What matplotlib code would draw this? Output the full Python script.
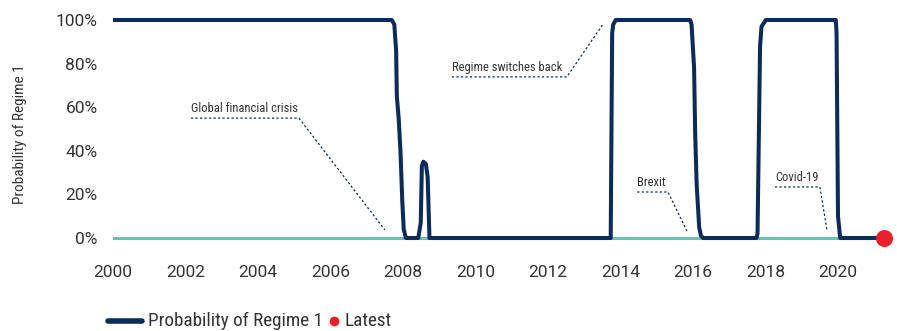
import matplotlib
matplotlib.use("Agg")
import matplotlib.pyplot as plt
from matplotlib.lines import Line2D
from matplotlib.ticker import FuncFormatter

# ---- data ----
dates = [2000.0, 2007.69, 2007.76, 2007.81, 2007.83, 2007.88, 2007.93, 2007.98, 2008.02, 2008.08,
         2008.42, 2008.49, 2008.52, 2008.56, 2008.63, 2008.68, 2008.70, 2008.73,
         2013.73, 2013.77, 2013.80, 2013.87,
         2015.92, 2015.96, 2016.03, 2016.06, 2016.10, 2016.17, 2016.22, 2016.28,
         2017.75, 2017.78, 2017.85, 2017.89, 2018.01,
         2019.94, 2019.96, 2020.00, 2020.06, 2021.27]
prob_regime1 = [1.0, 1.0, 0.98, 0.86, 0.65, 0.55, 0.40, 0.17, 0.04, 0.0,
                0.0, 0.07, 0.33, 0.35, 0.34, 0.28, 0.17, 0.0,
                0.0, 0.94, 0.98, 1.0,
                1.0, 0.98, 0.78, 0.48, 0.25, 0.05, 0.01, 0.0,
                0.0, 0.02, 0.88, 0.97, 1.0,
                1.0, 0.94, 0.10, 0.0, 0.0]
latest_date = 2021.27
latest_value = 0.0
x_ticks = list(range(2000, 2021, 2))
y_ticks = [0, 0.2, 0.4, 0.6, 0.8, 1.0]

# annotations: text, text x, text y, underline x-end, pointer end (x, y)
annotations = [
    ("Global financial crisis", 2002.15, 0.55, 2005.13, 2007.50, 0.037),
    ("Regime switches back", 2009.35, 0.739, 2012.52, 2013.52, 0.982),
    ("Brexit", 2014.46, 0.211, 2015.31, 2015.83, 0.032),
    ("Covid-19", 2018.26, 0.234, 2019.50, 2019.70, 0.032),
]

NAVY = "#0b2c5a"
TEAL = "#6cc0b2"
RED = "#e8202a"
TXT = "#333333"

plt.rcParams['font.family'] = ['Roboto', 'DejaVu Sans']
narrow = ['Roboto Condensed', 'Roboto', 'DejaVu Sans']

W, H = 897, 331
fig = plt.figure(figsize=(W / 100, H / 100), dpi=100)
x0, x1 = 2000.0, 2021.3
ylo, yhi = -0.10, 1.05
px_year = 36.25
px_unit = 218.0
left_px = 113
right_px = left_px + (x1 - x0) * px_year
bottom_px = 238 + (0 - ylo) * px_unit
top_px = 238 - (yhi - 0) * px_unit
ax = fig.add_axes([left_px / W, (H - bottom_px) / H, (right_px - left_px) / W, (bottom_px - top_px) / H])
ax.set_xlim(x0, x1)
ax.set_ylim(ylo, yhi)

ax.axhline(0, color=TEAL, lw=2.2, zorder=2)
ax.plot(dates, prob_regime1, color=NAVY, lw=2.9, solid_joinstyle='round', solid_capstyle='butt', zorder=3)
ax.scatter([latest_date], [latest_value], s=150, color=RED, zorder=4, clip_on=False, linewidths=0)

for txt, tx, ty, ux, ex, ey in annotations:
    ax.plot([tx, ux, ex], [ty, ty, ey], color=NAVY, lw=0.9, ls=(0, (1.8, 1.8)), zorder=2)
    ax.text(tx, ty + 0.012, txt, ha='left', va='bottom', fontsize=9, color=TXT, family=narrow)

for s in ax.spines.values():
    s.set_visible(False)
ax.set_xticks(x_ticks)
ax.set_yticks(y_ticks)
ax.yaxis.set_major_formatter(FuncFormatter(lambda v, p: f"{v*100:.0f}%"))
ax.tick_params(axis='both', length=0, labelsize=12.5, colors=TXT)
ax.tick_params(axis='x', pad=4)
ax.tick_params(axis='y', pad=11)

fig.text(20 / W, (H - 134) / H, "Probability of Regime 1", rotation=90, ha='center', va='center',
         fontsize=11, color=TXT, family=narrow)

# legend drawn manually
ly = (H - 321) / H
fig.add_artist(Line2D([108 / W, 142 / W], [ly, ly], color=NAVY, lw=4, solid_capstyle='round'))
fig.text(148 / W, ly, "Probability of Regime 1", ha='left', va='center', fontsize=13.8,
         color=TXT, family=narrow)
fig.add_artist(Line2D([334 / W], [ly], color=RED, marker='o', markersize=6, ls='none'))
fig.text(344 / W, ly, "Latest", ha='left', va='center', fontsize=13.8, color=TXT, family=narrow)

fig.savefig("out.png", dpi=100)
